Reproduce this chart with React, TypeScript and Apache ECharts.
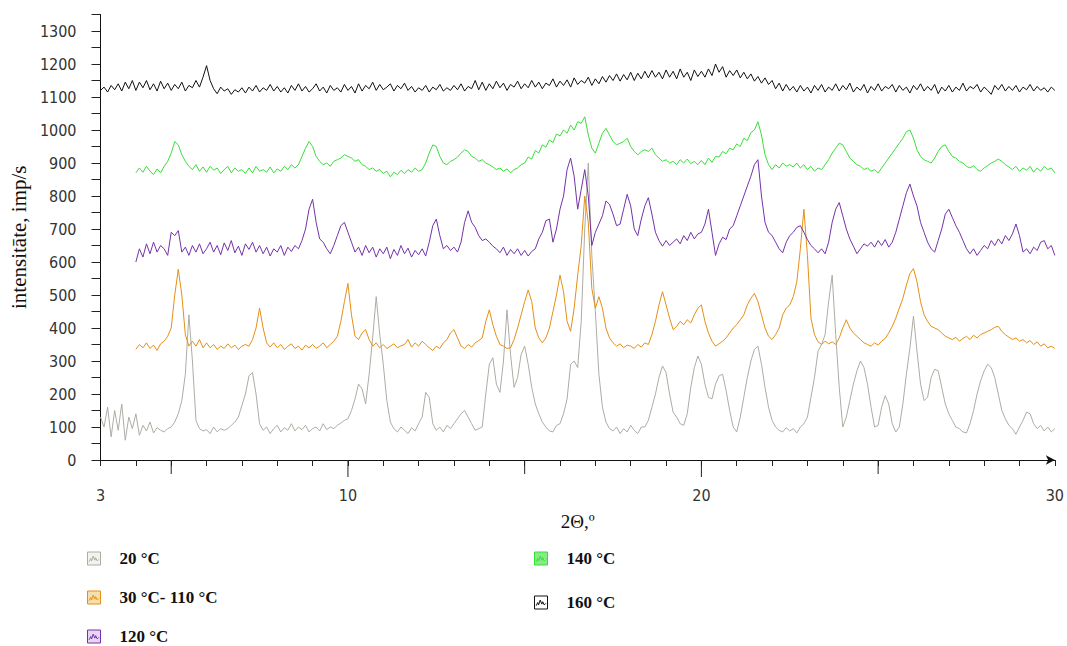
import React, { useEffect, useRef } from "react";
import * as echarts from "echarts";

const stepDeg = 0.1;
const start20 = 3.0;
const start30 = 4.0;
const start120 = 4.0;
const start140 = 4.0;
const start160 = 3.0;

const seriesNames = ["20 °C", "30 °C- 110 °C", "120 °C", "140 °C", "160 °C"];

const xTickLabels = [3, 10, 20, 30];
const xLongTicks = [5, 10, 15, 20, 25];

// 20 °C (3.0 .. 30.0)
const gray20 = [
  130, 100, 160, 70, 150, 90, 170, 60, 130, 95,
  140, 75, 105, 88, 115, 82, 98, 90, 85, 95,
  100, 115, 140, 180, 260, 440, 300, 120, 95, 88,
  92, 80, 100, 85, 95, 90, 95, 105, 115, 130,
  165, 200, 255, 265, 200, 110, 90, 100, 80, 95,
  105, 85, 98, 90, 110, 88, 100, 92, 105, 85,
  95, 100, 88, 110, 92, 100, 95, 105, 112, 120,
  125, 150, 185, 230, 215, 170, 260, 370, 495, 380,
  290, 180, 115, 95, 85, 100, 90, 80, 98, 88,
  110, 130, 205, 190, 110, 90, 100, 85, 105, 95,
  110, 125, 140, 150, 130, 110, 90, 95, 100, 200,
  290, 310, 230, 205, 300, 455, 320, 220, 250, 320,
  345, 290, 220, 170, 140, 115, 100, 88, 85, 105,
  110, 140, 185, 290, 300, 280, 420, 700, 900, 620,
  450, 260, 160, 115, 95, 88, 100, 80, 95, 85,
  105, 90, 80, 100, 100, 120, 160, 200, 250, 285,
  265, 200, 145, 130, 110, 105, 140, 220, 280, 315,
  290, 230, 190, 185, 230, 255, 260, 210, 150, 100,
  85, 130, 190, 250, 300, 335, 345, 290, 220, 160,
  120, 100, 90, 85, 98, 88, 95, 82, 100, 110,
  130, 190, 250, 330, 350, 380, 480, 560, 380, 220,
  100, 130, 180, 230, 270, 300, 280, 230, 160, 100,
  105, 160, 195, 170, 110, 85, 100, 170, 260, 340,
  436, 330, 230, 180, 190, 250, 275, 270, 220, 170,
  140, 120, 100, 95, 85, 82, 110, 150, 200, 240,
  270, 290, 280, 250, 200, 150, 125, 105, 95, 78,
  100, 120, 145, 140, 110, 95, 105, 88, 100, 85,
  95,
];

// 30 °C - 110 °C (4.0 .. 30.0)
const orange30 = [
  335, 350, 340, 355, 338, 348, 332, 352, 360, 375,
  400, 500, 578, 500, 380, 345, 360, 345, 365, 340,
  355, 340, 350, 335, 345, 338, 352, 340, 348, 335,
  345, 350, 345, 365, 400, 460, 400, 355, 342, 355,
  340, 350, 335, 345, 352, 338, 345, 333, 348, 340,
  350, 338, 345, 355, 340, 350, 360, 375, 420, 480,
  535, 440, 375, 365, 385, 395, 365, 345, 355, 340,
  350, 338, 345, 352, 340, 346, 350, 365, 342, 355,
  345, 360, 350, 340, 332, 345, 338, 355, 365, 385,
  395, 370, 345, 338, 350, 342, 355, 362, 370, 420,
  455, 410, 375, 350, 345, 338, 340, 365, 400, 440,
  480, 515, 480, 400, 370, 355, 370, 400, 450, 500,
  560, 510, 420, 390, 460, 560, 650, 800, 720, 520,
  460, 495, 460, 400, 370, 355, 345, 352, 340, 348,
  345, 338, 350, 342, 355, 350, 380, 420, 470, 510,
  470, 430, 395, 405, 420, 410, 425, 415, 440, 460,
  470, 420, 385, 360, 345, 352, 360, 370, 385, 400,
  410, 425, 440, 470, 490, 505, 480, 440, 400, 375,
  365, 380, 400, 440, 460, 470, 495, 540, 640, 760,
  620, 430, 380, 358, 350, 360, 352, 358, 350, 370,
  400, 425, 400, 385, 375, 365, 355, 350, 345, 355,
  348, 360, 368, 385, 405, 430, 460, 490, 530, 565,
  580, 540, 480, 440, 420, 405, 400, 395, 385, 375,
  370, 365, 372, 360, 368, 375, 365, 378, 370, 380,
  385, 390, 395, 402, 405, 390, 380, 372, 365, 370,
  360, 365, 355, 362, 350, 358, 345, 352, 340, 345,
  338,
];

// 120 °C (4.0 .. 30.0)
const purple120 = [
  600, 640, 615, 655, 625, 660, 630, 650, 640, 620,
  690, 680, 695, 630, 645, 620, 650, 630, 655, 625,
  640, 660, 630, 650, 622, 658, 635, 665, 628, 648,
  620, 655, 638, 660, 630, 650, 625, 645, 618, 640,
  630, 650, 620, 645, 632, 650, 640, 665, 700, 760,
  790, 720, 670, 660, 640, 625, 650, 680, 710, 720,
  690, 660, 630, 645, 620, 650, 628, 645, 615, 640,
  625, 645, 610, 638, 620, 650, 625, 642, 615, 635,
  622, 640, 618, 660, 710, 730, 680, 640, 650, 635,
  645, 630, 660, 720, 755, 720, 705, 680, 665, 670,
  660, 648, 640, 628, 645, 620, 638, 625, 640, 620,
  635, 618, 632, 640, 670, 690, 725, 730, 660, 700,
  760, 800, 880, 915, 860, 760, 820, 880, 800, 650,
  690, 715, 740, 785, 775, 745, 710, 715, 760, 805,
  770, 700, 680, 730, 770, 795, 745, 690, 665, 648,
  665, 650, 660, 670, 655, 680, 665, 690, 670, 685,
  690, 715, 760, 690, 620, 655, 675, 668, 700, 710,
  740, 770, 800, 830, 860, 895, 910, 800, 720, 690,
  680, 660, 640, 628, 660, 680, 690, 705, 710, 690,
  668, 650, 640, 628, 640, 625, 660, 720, 760, 780,
  740, 700, 670, 648, 625, 640, 655, 648, 660, 645,
  665, 650, 668, 645, 660, 690, 730, 770, 810, 836,
  800, 770, 720, 690, 660, 640, 630, 665, 700, 745,
  760, 735, 710, 690, 665, 640, 625, 640, 620, 635,
  650, 640, 665, 650, 670, 655, 680, 665, 685, 715,
  680, 630, 640, 625, 645, 635, 660, 665, 640, 650,
  620,
];

// 140 °C (4.0 .. 30.0)
const green140 = [
  870, 885, 872, 890, 875, 865, 882, 870, 890, 905,
  930, 965, 955, 925, 905, 890, 880, 895, 875, 888,
  872, 890, 878, 885, 868, 880, 890, 870, 885, 875,
  880, 868, 885, 870, 890, 875, 880, 872, 888, 870,
  882, 875, 890, 880, 895, 885, 895, 920, 945, 965,
  950, 920, 905, 895, 900, 890, 905, 910, 915, 925,
  920, 915, 905, 910, 895, 890, 880, 885, 875, 880,
  868, 875, 858, 872, 865, 878, 868, 880, 872, 885,
  875, 880, 900, 930, 955, 950, 920, 900, 895, 905,
  910, 918, 930, 940, 935, 920, 915, 905, 910, 900,
  895, 888, 880, 885, 875, 882, 870, 880, 885, 895,
  900, 918, 912, 938, 930, 955, 948, 970, 962, 988,
  982, 1000, 990, 1015, 1000, 1025, 1020, 1040, 985, 945,
  930, 960, 990, 1005, 985, 965, 955, 960, 965, 975,
  950, 935, 925, 935, 940, 935, 945, 925, 915, 905,
  910, 900, 905, 895, 910, 900, 912, 898, 905, 895,
  908, 895, 915, 902, 920, 918, 935, 928, 945, 940,
  958, 950, 975, 968, 992, 1000, 1025, 985, 925, 895,
  880, 895, 885, 900, 890, 895, 888, 900, 885, 895,
  880, 890, 875, 885, 880, 895, 910, 930, 945, 960,
  955, 935, 915, 905, 895, 890, 880, 885, 875, 880,
  870, 885, 900, 915, 930, 945, 960, 975, 995, 1000,
  975, 940, 920, 910, 905, 900, 915, 935, 950, 955,
  935, 920, 915, 905, 900, 890, 885, 892, 880, 875,
  885, 892, 900, 905, 912, 905, 895, 888, 880, 890,
  875, 885, 878, 890, 872, 885, 875, 890, 880, 885,
  870,
];

// 160 °C (3.0 .. 30.0)
const black160 = [
  1120, 1130, 1115, 1135, 1122, 1140, 1118, 1145, 1125, 1150,
  1120, 1145, 1128, 1150, 1122, 1140, 1118, 1148, 1125, 1142,
  1120, 1138, 1125, 1145, 1118, 1135, 1128, 1150, 1130, 1160,
  1195, 1150, 1125, 1110, 1130, 1118, 1125, 1108, 1122, 1115,
  1128, 1112, 1130, 1118, 1135, 1115, 1128, 1120, 1138, 1118,
  1132, 1115, 1128, 1112, 1135, 1120, 1140, 1118, 1132, 1115,
  1125, 1140, 1118, 1130, 1112, 1135, 1120, 1128, 1115, 1138,
  1120, 1132, 1112, 1140, 1118, 1135, 1125, 1145, 1120, 1138,
  1122, 1130, 1140, 1118, 1135, 1125, 1142, 1120, 1132, 1115,
  1128, 1120, 1135, 1115, 1130, 1122, 1138, 1118, 1128, 1120,
  1135, 1122, 1140, 1118, 1132, 1125, 1150, 1122, 1145, 1120,
  1140, 1125, 1148, 1128, 1142, 1120, 1138, 1130, 1148, 1125,
  1140, 1128, 1150, 1130, 1145, 1125, 1142, 1135, 1155, 1130,
  1148, 1135, 1152, 1130, 1158, 1138, 1150, 1142, 1160, 1135,
  1155, 1140, 1162, 1145, 1165, 1150, 1170, 1148, 1168, 1152,
  1175, 1150, 1172, 1155, 1178, 1158, 1180, 1160, 1175, 1155,
  1182, 1160, 1178, 1155, 1185, 1160, 1175, 1150, 1182, 1162,
  1178, 1160, 1185, 1165, 1200, 1175, 1192, 1160, 1180, 1165,
  1182, 1158, 1175, 1155, 1170, 1148, 1162, 1142, 1158, 1138,
  1150, 1125, 1142, 1118, 1138, 1120, 1132, 1115, 1135, 1118,
  1130, 1112, 1135, 1120, 1138, 1115, 1130, 1120, 1140, 1118,
  1135, 1122, 1142, 1115, 1130, 1120, 1138, 1112, 1132, 1120,
  1140, 1118, 1132, 1125, 1138, 1115, 1135, 1120, 1130, 1112,
  1135, 1122, 1140, 1118, 1132, 1120, 1138, 1110, 1130, 1118,
  1135, 1115, 1130, 1120, 1142, 1118, 1132, 1125, 1138, 1115,
  1130, 1120, 1108, 1135, 1122, 1138, 1118, 1132, 1120, 1135,
  1115, 1130, 1122, 1138, 1118, 1132, 1120, 1128, 1115, 1130,
  1120,
];

const colors = ["#adaca4", "#e48f16", "#7432aa", "#38df38", "#111111"];
const iconFills = ["#f2f2ef", "#f6dfae", "#e6d6f2", "#86ea86", "#ffffff"];

const toPairs = (vals: number[], start: number) =>
  vals.map((v, i) => [Math.round((start + i * stepDeg) * 100) / 100, v]);

const ICON = "path://M0,0L16,0L16,16L0,16Z M2,12L4,8L5,11L7,5L9,10L10,7L12,11L14,9";

// legend placement (left, top) for each entry
const legendPos: [number, number][] = [
  [87, 550],
  [87, 589],
  [87, 628],
  [534, 550],
  [534, 594],
];

export default function App() {
  const ref = useRef<HTMLDivElement>(null);
  useEffect(() => {
    if (!ref.current) return;
    const chart = echarts.init(ref.current, undefined, { renderer: "svg" });
    const datasets = [
      toPairs(gray20, start20),
      toPairs(orange30, start30),
      toPairs(purple120, start120),
      toPairs(green140, start140),
      toPairs(black160, start160),
    ];
    const legendText = {
      fontFamily: "'Liberation Serif', 'Times New Roman', serif",
      fontWeight: "bold" as const,
      fontSize: 17,
      color: "#111",
      padding: [0, 0, 0, 14],
    };
    const legends = seriesNames.map((n, i) => ({
      orient: "vertical",
      left: legendPos[i][0],
      top: legendPos[i][1],
      itemWidth: 13,
      itemHeight: 13,
      padding: 0,
      selectedMode: false,
      textStyle: legendText,
      data: [
        {
          name: n,
          icon: ICON,
          itemStyle: { color: iconFills[i], borderColor: colors[i], borderWidth: 1 },
        },
      ],
    }));
    const tickFont = "'Liberation Sans Narrow', 'DejaVu Sans Condensed', 'Liberation Sans', sans-serif";
    chart.setOption({
      animation: false,
      backgroundColor: "#ffffff",
      grid: { left: 97, right: 10, top: 14.5, bottom: 186, containLabel: false },
      legend: legends,
      xAxis: {
        type: "value",
        min: 3,
        max: 30,
        interval: 1,
        name: "2Θ,º",
        nameLocation: "middle",
        nameGap: 52,
        nameTextStyle: {
          fontFamily: "'Liberation Serif', 'Times New Roman', serif",
          fontSize: 19,
          color: "#111",
        },
        axisLine: {
          onZero: false,
          lineStyle: { color: "#111", width: 1 },
          symbol: ["none", "arrow"],
          symbolSize: [7, 9],
        },
        axisTick: { show: true, length: 6, lineStyle: { color: "#222" } },
        axisLabel: {
          margin: 27,
          fontFamily: tickFont,
          fontSize: 16,
          color: "#333",
          showMinLabel: true,
          showMaxLabel: true,
          formatter: (v: number) => (xTickLabels.includes(v) ? String(v) : ""),
        },
        splitLine: { show: false },
      },
      yAxis: {
        type: "value",
        min: 0,
        max: 1350,
        interval: 50,
        name: "intensitāte, imp/s",
        nameLocation: "middle",
        nameGap: 62,
        nameTextStyle: {
          fontFamily: "'Liberation Serif', 'Times New Roman', serif",
          fontSize: 21,
          color: "#111",
        },
        axisLine: { show: true, lineStyle: { color: "#111", width: 1 } },
        axisTick: { show: true, length: 9, lineStyle: { color: "#222" } },
        axisLabel: {
          margin: 24,
          fontFamily: tickFont,
          fontSize: 16,
          color: "#333",
          formatter: (v: number) => (v % 100 === 0 && v <= 1300 ? String(v) : ""),
        },
        splitLine: { show: false },
      },
      series: [
        ...datasets.map((d, i) => ({
          name: seriesNames[i],
          type: "line",
          data: d,
          showSymbol: false,
          symbol: "none",
          lineStyle: { color: colors[i], width: 1 },
          itemStyle: { color: colors[i] },
          z: 2 + i,
        })),
        {
          name: "majorTicks",
          type: "custom",
          silent: true,
          clip: false,
          data: xLongTicks.map((t) => [t, 0]),
          renderItem: (_p: any, api: any) => {
            const x = api.value(0);
            const pt = api.coord([x, 0]);
            const len = x % 10 === 0 ? 17 : 14;
            return {
              type: "line",
              shape: { x1: pt[0], y1: pt[1], x2: pt[0], y2: pt[1] + len },
              style: { stroke: "#222", lineWidth: 1 },
            };
          },
        },
      ],
    });
    return () => chart.dispose();
  }, []);
  return (
    <div
      ref={ref}
      style={{ position: "fixed", left: 0, top: 0, width: 1067, height: 646, background: "#fff" }}
    />
  );
}
